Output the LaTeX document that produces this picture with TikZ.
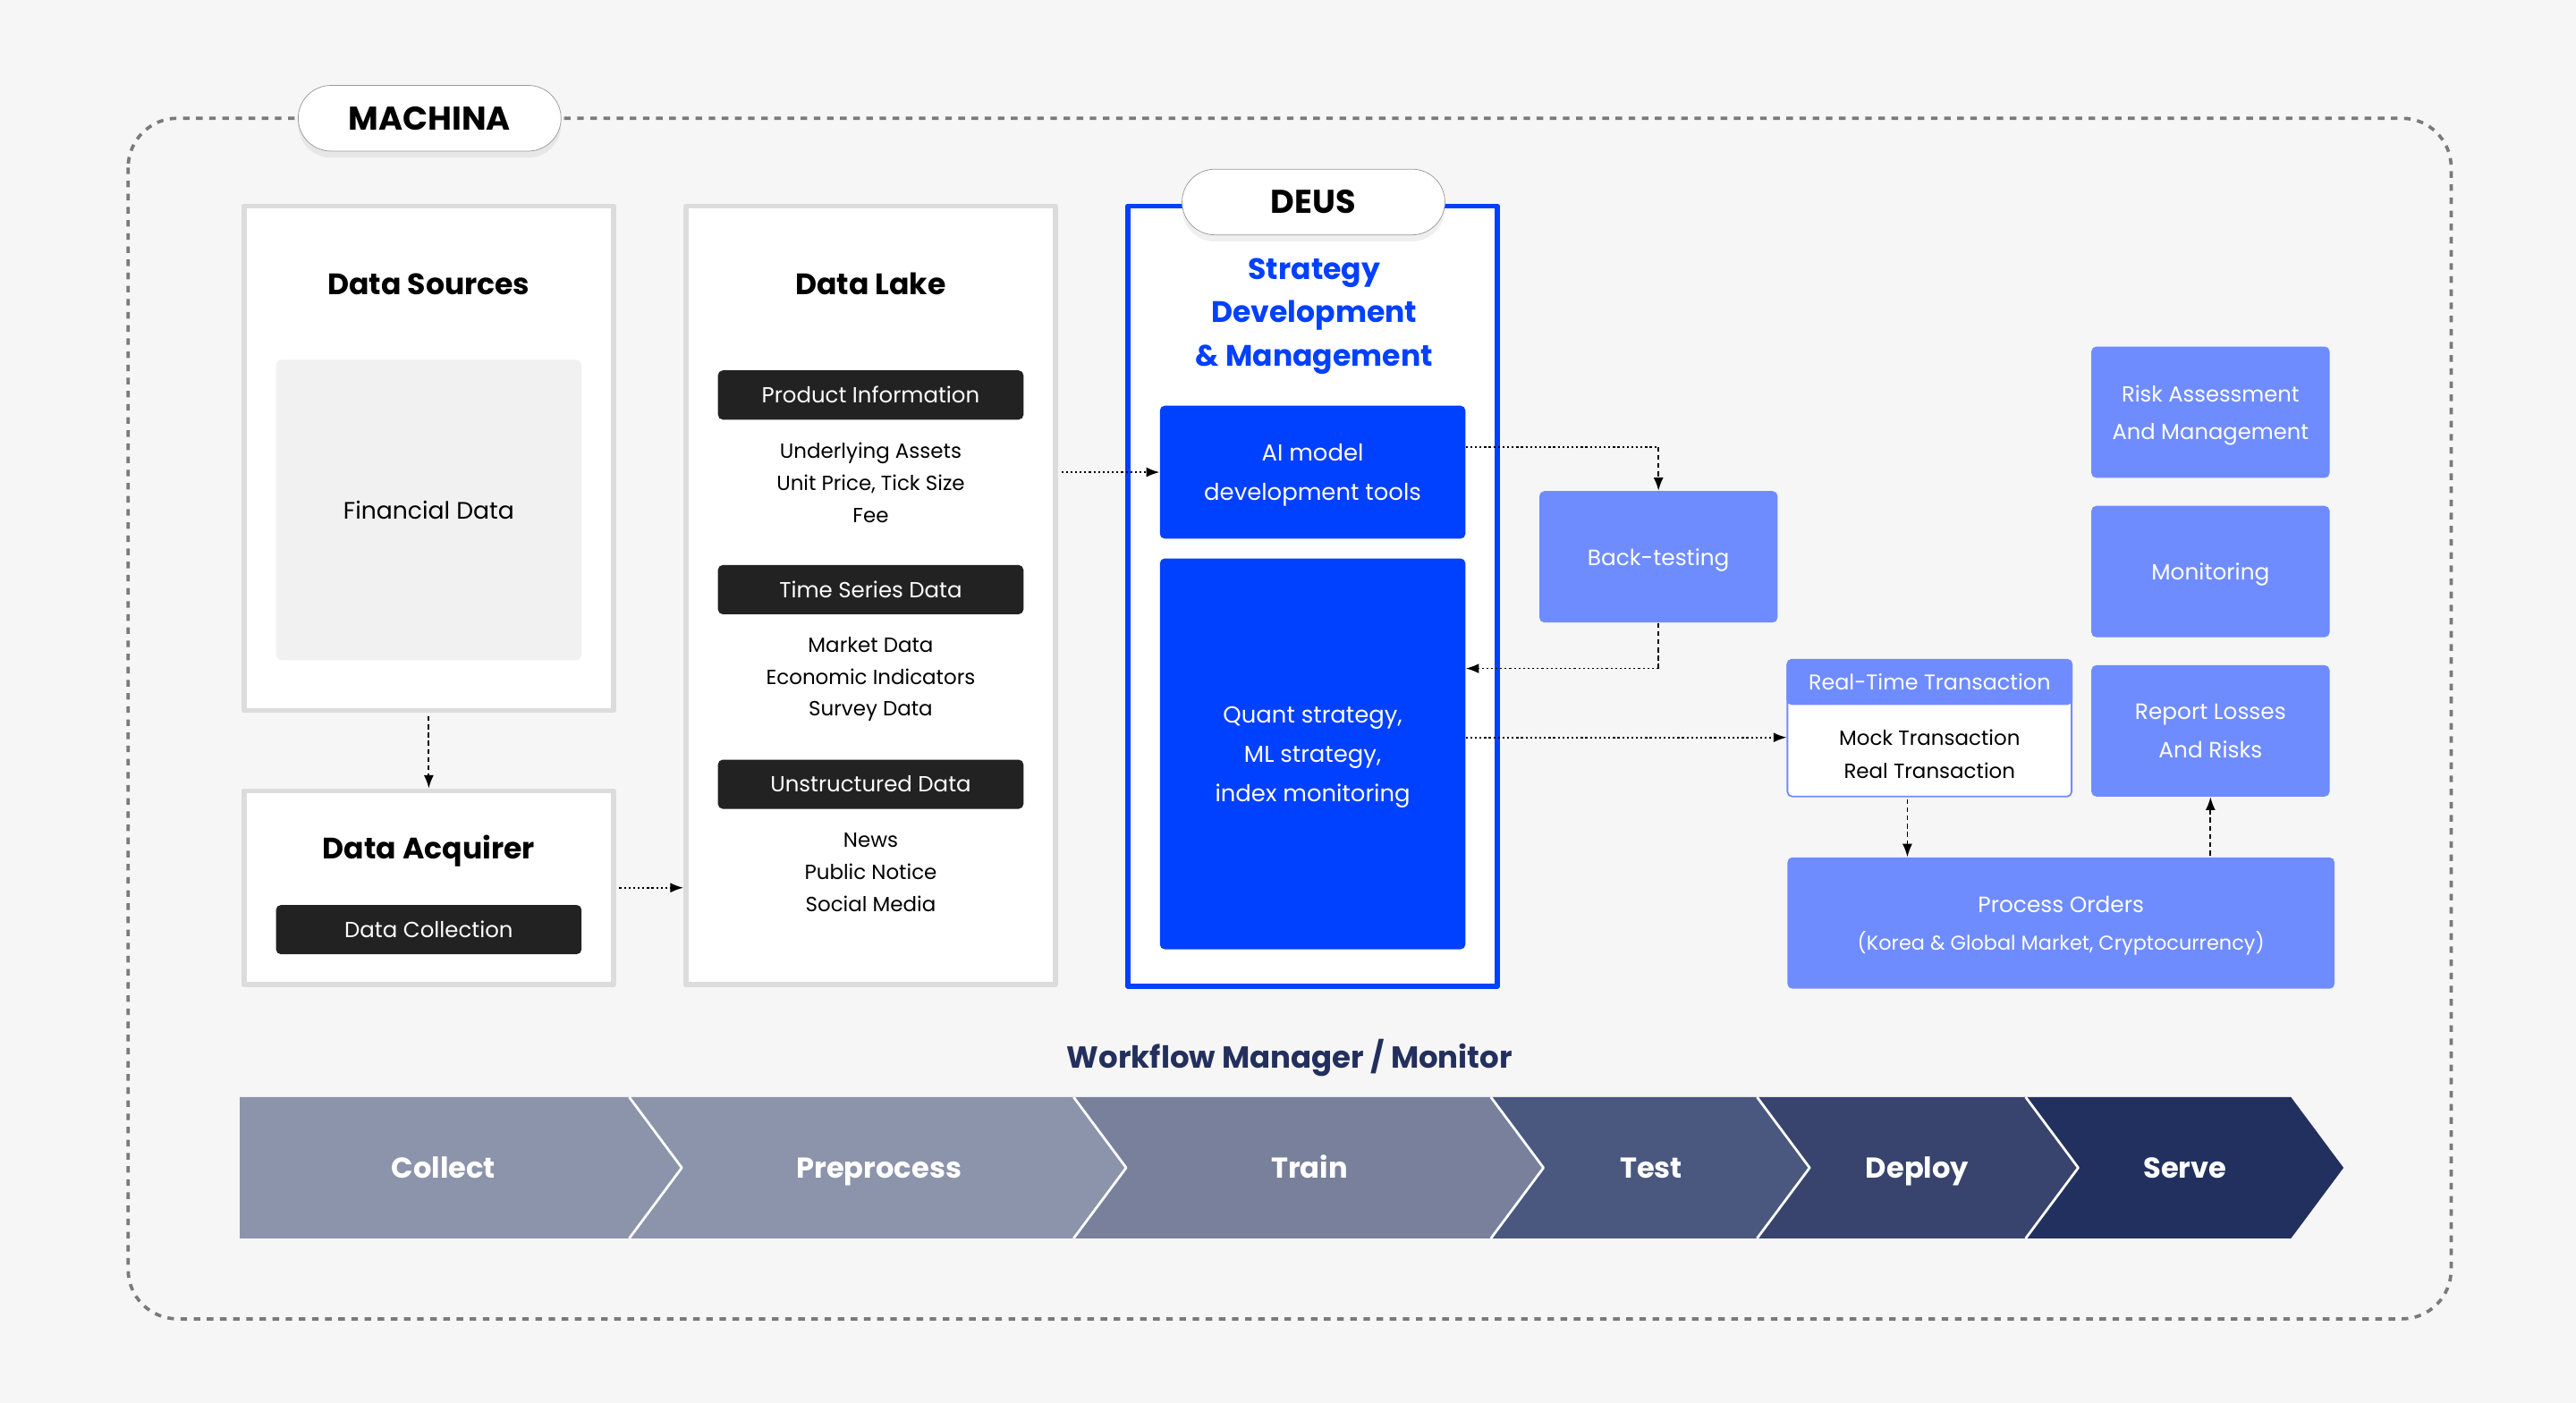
\documentclass[tikz,border=0pt]{standalone}
\usepackage{fontspec}
\setmainfont{Poppins}
\usetikzlibrary{arrows.meta,shadows}
\definecolor{bg}{HTML}{F6F6F6}
\definecolor{frame}{HTML}{7A7A7A}
\definecolor{panelline}{HTML}{DCDCDC}
\definecolor{soft}{HTML}{F1F1F1}
\definecolor{ink}{HTML}{222222}
\definecolor{deus}{HTML}{0040FF}
\definecolor{light}{HTML}{6F8CFF}
\definecolor{navy}{HTML}{23305E}
\definecolor{stepA}{HTML}{8C94AB}
\definecolor{stepB}{HTML}{8C94AB}
\definecolor{stepC}{HTML}{78809C}
\definecolor{stepD}{HTML}{4A577F}
\definecolor{stepE}{HTML}{38446E}
\definecolor{stepF}{HTML}{22305F}
\newcommand\fsz[2]{\fontsize{#1}{#2}\selectfont}
\tikzset{
  panel/.style={draw=panelline, line width=3pt, fill=white, minimum width=225pt},
  heading/.style={font=\fsz{18}{22}\bfseries},
  darkbar/.style={fill=ink, rounded corners=3pt, text=white, minimum width=186pt, minimum height=30pt, font=\fsz{13.3}{17}},
  itemlist/.style={align=center, font=\fsz{12.5}{19.5}},
  pill/.style={draw=gray!80, fill=white, rounded corners=20pt, minimum width=160pt, minimum height=40pt, font=\fsz{20}{24}\bfseries, drop shadow={opacity=.12, shadow xshift=0pt, shadow yshift=-4pt}},
  bluebox/.style={fill=deus, rounded corners=3pt, minimum width=186pt, text=white, align=center, text depth=0pt, font=\fsz{14.1}{24}},
  lightbox/.style={fill=light, rounded corners=3pt, minimum width=145pt, minimum height=80pt, text=white, align=center, text depth=0pt, font=\fsz{13.5}{23}},
  flow/.style={-{Latex[length=8pt,width=6pt]}, line width=1pt, dash pattern=on 1.2pt off 1.6pt},
  drop/.style={-{Latex[length=8pt,width=6pt]}, line width=1pt, dash pattern=on 3pt off 2pt},
  steplabel/.style={font=\fsz{17.5}{22}\bfseries, text=white, anchor=base}
}
\begin{document}
\begin{tikzpicture}[x=1pt, y=-1pt, line join=round]
  \fill[bg] (0,0) rectangle (1568,854);
  \useasboundingbox (0,0) rectangle (1568,854);
  \draw[frame, line width=2pt, dash pattern=on 4pt off 4pt, rounded corners=30pt] (78,72) rectangle (1492,803);
  \node[pill] (machina) at (261.5,72) {MACHINA};
  % collect side
  \node[panel, minimum height=307pt] (ds) at (261,279) {};
  \node[heading] (dsT) at (261,173) {Data Sources};
  \node[fill=soft, rounded corners=4pt, minimum width=186pt, minimum height=183pt, font=\fsz{14.5}{18}] (fin) at (261,310.5) {Financial Data};
  \node[panel, minimum height=118pt] (da) at (261,540.5) {};
  \node[heading] (daT) at (261,518) {Data Acquirer};
  \node[darkbar] (dc) at (261,566) {Data Collection};
  \node[panel, minimum height=474pt] (dl) at (530,362.5) {};
  \node[heading] (dlT) at (530,173) {Data Lake};
  \node[darkbar] (pi) at (530,240.5) {Product Information};
  \node[itemlist] (piL) at (530,294) {Underlying Assets\\Unit Price, Tick Size\\Fee};
  \node[darkbar] (ts) at (530,359) {Time Series Data};
  \node[itemlist] (tsL) at (530,413.5) {Market Data\\Economic Indicators\\Survey Data};
  \node[darkbar] (ud) at (530,477.5) {Unstructured Data};
  \node[itemlist] (udL) at (530,531) {News\\Public Notice\\Social Media};
  % deus
  \node[draw=deus, line width=3pt, fill=white, minimum width=225pt, minimum height=475pt] (deusbox) at (799,363) {};
  \node[pill] (deus) at (799.5,123) {DEUS};
  \node[text=deus, font=\fsz{18}{26.5}\bfseries, align=center] (sdm) at (800,192.5) {Strategy\\Development\\\& Management};
  \node[bluebox, minimum height=81pt] (ai) at (799,287.5) {AI model\\development tools};
  \node[bluebox, minimum height=238pt] (quant) at (799,459) {Quant strategy,\\ML strategy,\\index monitoring};
  % serve side
  \node[lightbox] (bt) at (1009.5,339) {Back-testing};
  \node[lightbox, font=\fsz{13.2}{23}] (risk) at (1345.5,251) {Risk Assessment\\And Management};
  \node[lightbox] (mon) at (1345.5,348) {Monitoring};
  \node[lightbox] (rep) at (1345.5,445) {Report Losses\\And Risks};
  \node[draw=light, line width=1pt, fill=white, rounded corners=3pt, minimum width=173pt, minimum height=83pt] (rt) at (1174.5,443.5) {};
  \node[fill=light, rounded corners=3pt, minimum width=174pt, minimum height=28pt, anchor=north, text=white, font=\fsz{13}{17}] (rtH) at ([yshift=0.5pt]rt.north) {Real-Time Transaction};
  \node[align=center, font=\fsz{12.5}{20}] (rtL) at (1174.5,459) {Mock Transaction\\Real Transaction};
  \node[lightbox, minimum width=333pt] (po) at (1254.5,562) {Process Orders\\\fsz{12.2}{22}(Korea \& Global Market, Cryptocurrency)};
  % connectors
  \coordinate (k1) at (1009.5,272);
  \coordinate (k2) at (1009.5,407);
  \coordinate (k3) at (0,449);
  \coordinate (k4) at (1161,0);
  \draw[drop, shorten <=2pt] (ds.south) -- (da.north);
  \draw[flow, shorten <=2pt] (da.east) -- (dl.west |- da.east);
  \draw[flow, shorten <=2pt] (dl.east |- ai.west) -- (ai.west);
  \draw[line width=1pt, dash pattern=on 1.2pt off 1.6pt] (ai.east |- k1) -- (k1);
  \draw[drop] (k1) -- (bt.north);
  \draw[line width=1pt, dash pattern=on 3pt off 2pt] (bt.south) -- (k2);
  \draw[flow] (k2) -- (quant.east |- k2);
  \draw[flow] (quant.east |- k3) -- (rt.west |- k3);
  \draw[drop, shorten <=1pt] (rt.south -| k4) -- (po.north -| k4);
  \draw[drop, shorten <=1pt] (po.north -| rep.south) -- (rep.south);
  % workflow
  \node[font=\fsz{18.5}{22}\bfseries, text=navy] (wf) at (785,644) {Workflow Manager / Monitor};
  \foreach \a/\b/\n/\col/\mid/\lbl in {146/383/0/stepA/270/Collect, 383/653.5/32/stepB/535/Preprocess, 653.5/907.5/32/stepC/797/Train, 907.5/1069.5/32/stepD/1005/Test, 1069.5/1233/32/stepE/1167/Deploy, 1233/1394.5/32/stepF/1330/Serve}{
    \fill[\col] (\a,668) -- (\b,668) -- (\b+32,711) -- (\b,754) -- (\a,754) -- (\a+\n,711) -- cycle;
    \node[steplabel] (s\lbl) at (\mid,717.5) {\lbl};
  }
  \foreach \b in {383,653.5,907.5,1069.5,1233}
    \draw[white, line width=1.5pt] (\b,668) -- (\b+32,711) -- (\b,754);
\end{tikzpicture}
\end{document}
